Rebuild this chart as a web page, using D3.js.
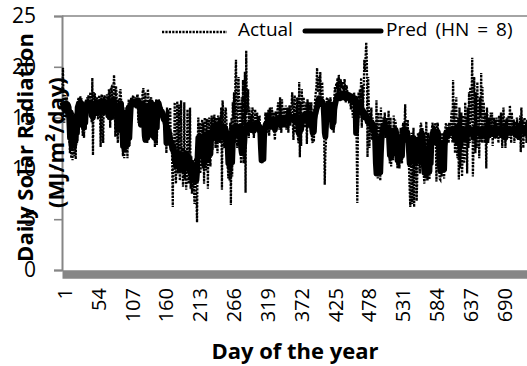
<!DOCTYPE html>
<html><head><meta charset="utf-8">
<script src="https://cdn.jsdelivr.net/npm/d3@7"></script>
<style>
body{margin:0;background:#fff}
svg{display:block}
text{font-family:"Open Sans",sans-serif;fill:#000}
</style>
</head><body>
<svg id="chart" width="527" height="366"></svg>
<script>
// ---- data ----
const xTickDays = [1,54,107,160,213,266,319,372,425,478,531,584,637,690];
const yTickValues = [0,5,10,15,20,25];
const seriesNames = ["Actual","Pred (HN = 8)"];
const xTitle = "Day of the year";
const yTitle1 = "Daily Solar Radiation";
const yTitle2 = "(MJ/m\u00B2/day)";

const actual = [
17.5,19.9,16.0,14.5,17.2,16.8,15.0,17.0,16.5,15.8,
16.5,13.0,11.5,15.8,11.0,13.0,10.8,15.5,12.0,11.2,
13.5,10.9,15.8,12.5,16.5,16.8,17.0,16.2,17.1,16.6,
16.9,15.0,13.2,14.8,13.0,16.3,13.8,16.8,16.5,17.0,
16.4,17.2,15.8,16.8,17.5,16.6,14.5,18.9,11.3,17.5,
16.8,17.4,15.2,16.6,17.0,15.5,14.8,16.9,17.2,16.0,
12.1,17.0,17.3,14.0,12.5,16.8,17.2,16.5,15.4,16.9,
17.3,16.5,14.8,17.8,17.4,14.0,17.9,18.0,17.2,14.8,
17.6,19.2,17.5,13.1,18.1,17.4,13.8,12.5,16.8,13.5,
17.5,17.8,16.9,14.0,12.8,11.2,13.5,11.0,12.5,16.0,
11.5,13.2,11.0,14.5,16.8,12.2,14.0,16.5,17.0,16.8,
16.9,17.2,16.7,16.5,17.0,16.8,15.9,17.1,17.3,14.5,
16.7,17.0,14.8,14.0,15.5,16.8,17.6,17.9,13.8,12.6,
17.5,13.5,16.2,12.5,17.8,16.9,13.0,15.5,16.8,17.0,
16.5,14.5,12.8,14.2,16.5,12.1,15.6,16.8,12.3,15.5,
16.7,16.8,16.5,16.2,16.0,15.5,16.0,14.8,15.3,14.6,
15.6,14.0,14.8,11.5,16.0,13.5,15.8,12.5,14.2,16.0,
11.8,13.5,11.0,6.2,12.8,10.5,16.5,9.8,8.5,12.5,
16.6,9.5,11.8,16.3,8.8,10.0,16.7,9.6,12.0,8.2,
9.0,16.5,8.9,11.5,7.9,9.5,15.8,11.8,8.5,10.0,
16.0,8.0,11.2,7.5,8.2,10.8,8.6,6.5,11.0,8.0,
7.2,4.7,12.0,15.0,13.0,14.5,9.5,10.5,13.8,14.8,
10.0,14.5,8.5,15.0,11.0,9.8,14.9,13.5,8.0,14.6,
15.0,11.0,10.2,14.5,15.2,11.8,15.0,13.0,15.3,14.5,
12.0,15.0,14.2,11.5,15.2,14.5,15.0,12.5,14.8,16.0,
7.9,16.7,15.5,12.8,12.0,15.2,16.0,14.8,13.0,10.5,
9.0,12.5,8.8,14.5,6.4,15.0,9.2,16.5,15.0,17.5,
12.5,18.5,20.7,14.5,12.0,17.0,19.0,15.5,16.5,12.0,
10.5,17.0,12.0,18.7,10.5,15.5,19.5,7.6,21.6,16.0,
15.5,17.8,13.0,16.0,14.5,15.2,13.5,15.5,16.0,14.2,
13.0,15.0,15.8,14.0,13.8,15.5,15.0,13.5,14.8,15.2,
12.5,10.8,11.1,10.5,12.0,11.3,14.0,12.5,15.5,15.0,
13.5,15.5,14.0,15.8,13.2,16.0,15.2,13.8,16.0,15.5,
14.0,15.5,13.5,12.8,15.6,15.2,14.0,15.8,16.5,15.0,
13.8,17.0,15.5,13.5,16.8,15.2,14.0,16.0,15.4,14.0,
16.2,13.8,15.5,16.0,13.5,15.8,16.2,14.2,15.8,16.0,
17.5,14.5,12.8,16.5,17.2,13.5,16.0,15.2,17.0,13.0,
12.5,18.5,11.1,16.5,12.2,17.8,15.8,16.5,17.0,14.0,
16.2,14.2,16.5,12.4,16.8,15.5,14.0,16.5,16.0,15.0,
16.5,12.8,12.5,15.8,12.6,16.0,16.8,17.5,18.0,19.9,
17.5,18.6,19.0,17.2,19.5,16.8,17.8,18.5,16.6,15.5,
13.5,8.4,11.5,12.8,16.8,17.0,15.5,16.8,15.0,16.5,
17.0,16.0,14.0,13.8,16.5,13.5,17.0,18.0,17.5,18.4,
17.8,18.9,17.5,19.2,18.2,17.6,18.8,17.9,18.5,17.8,
18.0,17.6,18.8,17.5,16.5,18.2,17.8,16.8,17.5,16.4,
17.0,16.5,15.8,17.2,16.2,15.0,16.5,17.5,14.5,16.0,
15.0,12.5,6.6,14.0,17.5,15.0,17.8,16.5,18.9,14.0,
18.2,16.0,17.5,20.7,19.5,21.0,22.4,20.5,11.1,19.0,
16.0,12.0,15.5,13.5,16.0,12.8,15.0,13.0,14.5,13.2,
11.5,9.8,16.7,10.5,9.0,15.5,9.5,14.0,8.8,16.0,
12.0,14.5,13.0,15.0,13.5,15.5,13.0,14.8,13.5,15.0,
13.0,15.7,11.5,10.5,15.0,10.2,14.0,12.6,10.8,15.2,
13.0,14.8,14.5,12.5,11.0,10.0,13.5,11.5,10.0,12.5,
14.0,11.0,10.5,14.0,14.5,12.8,14.2,16.3,12.5,14.5,
12.5,14.8,11.5,10.0,8.0,6.2,10.5,13.5,6.5,10.8,
14.0,6.2,11.5,9.0,12.5,6.8,9.5,13.5,10.5,11.8,
9.5,14.2,14.5,12.5,14.0,11.5,9.5,8.5,12.0,8.8,
14.6,11.0,8.8,13.5,9.5,8.9,12.5,9.5,13.5,14.0,
14.5,12.5,14.2,12.8,14.5,12.5,8.7,14.2,14.5,12.5,
10.5,9.0,8.9,12.0,9.2,13.5,9.5,10.0,9.0,13.5,
14.0,14.5,12.8,14.3,14.0,12.5,14.5,14.2,13.0,15.0,
15.7,12.5,18.7,14.5,16.5,11.5,15.5,17.0,12.0,11.0,
15.0,8.9,16.0,10.0,12.0,15.5,9.2,11.5,15.2,10.5,
11.0,16.5,12.5,15.0,9.5,16.0,12.0,17.5,12.5,18.0,
14.5,17.0,20.9,9.2,12.0,19.0,16.5,11.5,17.5,12.0,
18.5,13.0,16.0,11.0,17.0,15.0,19.4,12.5,18.0,14.5,
16.5,12.5,15.5,14.0,10.0,16.0,14.8,12.5,15.0,14.2,
13.0,15.5,14.0,15.5,12.2,14.5,15.0,13.0,14.8,14.0,
15.0,13.5,14.5,12.5,15.2,14.0,13.0,15.5,14.2,12.0,
14.5,16.0,13.0,14.8,12.0,14.5,15.0,13.5,14.0,15.2,
13.0,16.2,14.5,12.5,15.5,14.0,13.2,14.8,12.5,14.6,
14.0,13.0,15.0,14.2,12.8,14.5,13.5,15.2,11.6,16.0,
13.5,14.8,12.0,14.5,15.0,13.2,14.5,12.5,14.8,14.0
];

const pred = [
16.5,16.3,16.0,15.8,16.2,16.4,16.1,15.9,16.3,16.2,
16.0,14.5,13.0,15.5,12.5,14.0,12.2,15.0,13.0,12.3,
14.5,12.8,15.2,13.5,16.0,16.2,16.4,16.3,16.5,16.2,
16.4,15.5,14.2,15.0,14.0,15.8,14.5,16.0,16.3,16.5,
16.2,16.4,16.0,16.3,16.5,16.2,15.2,16.0,15.0,16.2,
16.4,16.2,15.6,16.3,16.5,16.0,15.4,16.2,16.5,16.3,
15.8,16.4,16.6,16.2,15.5,16.3,16.5,16.4,16.0,16.2,
16.5,16.2,15.2,16.4,16.6,15.0,16.3,16.5,16.1,15.4,
16.4,16.7,16.3,15.8,16.2,16.0,14.5,13.8,15.0,14.2,
15.8,16.3,16.4,15.0,13.5,12.2,14.0,12.0,13.2,15.5,
12.5,13.8,12.3,14.8,16.0,13.0,14.5,15.8,16.4,16.5,
16.3,16.6,16.5,16.3,16.6,16.4,16.2,16.5,16.7,16.4,
16.3,16.5,15.5,14.3,15.2,16.2,16.4,16.0,14.5,13.2,
12.8,14.0,15.5,13.0,14.8,16.2,13.5,15.0,16.3,16.5,
16.2,15.0,13.2,14.5,16.0,13.0,15.2,16.3,14.0,15.8,
16.2,16.4,16.1,15.9,15.7,15.4,15.6,15.2,15.0,14.8,
15.1,14.6,14.3,12.5,13.5,14.0,13.2,13.6,12.8,13.0,
12.4,12.6,12.0,11.8,12.2,11.5,10.8,11.2,10.2,11.0,
11.6,10.5,10.9,11.3,10.0,10.6,11.4,10.3,11.0,10.7,
9.8,11.2,10.4,10.9,11.5,10.1,10.6,11.0,9.9,10.5,
10.2,9.5,10.6,9.2,8.9,10.0,9.4,9.0,10.3,9.3,
8.8,9.6,11.5,13.0,12.5,13.2,12.0,11.2,12.5,13.0,
11.5,12.8,10.5,13.2,12.0,11.0,13.4,12.6,10.8,13.0,
13.5,12.2,11.4,13.3,13.6,12.9,14.0,13.6,14.2,13.8,
13.3,14.1,13.5,12.8,14.0,13.7,14.3,13.4,13.9,14.2,
13.0,13.8,14.1,13.6,13.2,14.0,13.8,13.5,13.5,12.0,
10.5,11.5,10.1,12.8,11.0,13.2,10.6,12.4,13.8,14.0,
13.5,13.9,14.2,13.6,13.3,14.0,13.8,14.1,13.7,13.2,
12.0,11.5,12.8,13.5,11.8,12.5,13.6,14.0,13.8,13.5,
14.1,14.3,13.9,14.2,14.0,14.4,13.8,14.1,14.3,14.0,
13.7,14.2,14.4,14.1,13.9,14.2,14.3,14.0,14.2,14.1,
13.5,12.0,10.8,11.5,12.5,10.9,13.0,13.8,14.2,14.4,
14.0,14.5,14.3,14.6,14.1,14.4,14.5,14.2,14.6,14.3,
14.5,14.7,14.4,13.8,14.5,14.6,14.3,14.8,14.5,14.7,
14.4,14.9,14.6,14.3,14.8,14.6,14.9,14.7,14.5,14.9,
15.0,14.7,14.8,15.1,14.6,14.9,15.0,14.8,15.1,14.9,
15.0,15.0,14.8,15.1,14.9,14.7,15.0,14.8,15.1,14.6,
13.5,14.2,13.6,15.0,13.8,14.5,15.1,14.9,15.2,15.0,
14.8,15.1,15.3,15.0,15.2,14.9,15.3,15.1,15.4,15.2,
15.0,14.0,13.5,14.6,13.6,14.8,15.3,15.5,15.8,16.0,
16.4,16.7,16.9,16.6,16.8,16.5,16.3,16.6,16.4,16.2,
15.0,13.5,13.1,14.2,15.5,16.2,16.0,16.2,15.8,16.1,
15.9,16.3,15.0,14.1,15.2,14.5,15.8,16.2,16.5,16.8,
17.0,17.2,17.0,17.3,17.1,16.9,17.2,17.4,17.1,17.3,
17.0,17.2,17.4,17.1,16.9,17.2,17.3,17.0,17.1,16.9,
17.2,17.0,16.8,17.1,16.9,16.7,17.0,16.8,16.6,16.9,
13.5,14.8,16.2,16.5,16.0,16.3,15.8,16.1,15.6,15.9,
15.4,15.7,15.2,15.5,15.0,15.3,14.9,15.1,14.6,14.8,
14.5,14.8,14.4,14.6,14.2,14.5,14.0,14.3,13.8,14.1,
12.5,10.5,9.5,11.0,9.8,12.0,10.2,13.0,9.6,11.5,
12.8,13.5,14.0,14.2,13.9,14.3,14.0,13.8,14.1,13.6,
13.9,14.0,12.5,11.3,12.8,11.1,13.0,12.0,11.5,13.2,
13.8,13.6,13.8,13.5,12.0,10.8,11.5,12.5,10.9,11.8,
13.0,12.2,11.2,12.8,13.5,13.7,13.6,13.4,13.5,13.3,
13.6,13.2,12.8,11.5,10.5,12.0,11.2,12.5,10.8,11.8,
13.0,11.0,12.2,10.6,11.6,12.8,10.9,12.0,11.4,12.6,
10.7,13.0,13.4,13.5,13.3,12.5,10.5,9.6,11.0,9.5,
10.8,12.0,9.8,11.5,10.2,9.7,11.8,10.5,12.5,13.2,
13.5,13.4,13.5,13.3,13.6,13.2,12.5,13.4,13.6,13.3,
12.0,10.5,9.8,11.2,10.0,12.5,10.3,11.0,9.9,12.2,
13.0,13.5,13.4,13.6,13.3,13.5,13.4,13.7,13.5,13.6,
13.8,13.5,13.9,13.6,13.8,12.8,13.7,14.0,13.5,12.5,
13.8,13.6,13.9,12.2,13.5,13.8,13.6,13.2,13.9,13.7,
12.8,13.6,13.8,13.5,13.9,13.7,13.4,13.8,13.6,13.9,
13.7,13.5,13.8,13.6,13.0,13.7,13.9,13.6,13.5,13.8,
13.6,13.9,13.7,13.4,13.8,13.6,13.1,13.7,13.9,13.6,
13.8,13.5,13.7,13.9,13.6,13.0,13.8,13.6,13.7,13.9,
13.5,13.8,13.6,13.7,13.4,13.8,13.9,13.6,13.2,13.7,
13.8,13.6,13.9,13.7,13.5,13.8,13.6,13.9,13.7,13.4,
13.8,13.6,13.7,13.9,13.0,13.6,13.8,13.7,13.5,13.8,
13.6,13.9,13.7,13.5,13.8,13.6,13.7,13.9,13.6,13.8,
13.5,13.7,13.9,13.6,13.8,13.1,13.7,13.6,13.8,13.7,
13.9,13.6,13.8,13.7,13.5,13.8,13.6,13.9,13.7,13.8
];

// ---- drawing ----
const svg = d3.select("#chart");
const nDays = 730;
const axisGray = "#868686";

const x = d3.scaleLinear().domain([0.5, nDays + 0.5]).range([62, 62 + nDays * 0.6385]);
const y = d3.scaleLinear().domain([0, 25]).range([270, 16]);

// top line at 25
svg.append("line")
  .attr("x1", 62).attr("x2", 528).attr("y1", y(25)).attr("y2", y(25))
  .attr("stroke", axisGray).attr("stroke-width", 1.6);

// y axis
const yAxis = svg.append("g").attr("transform", "translate(62,0)")
  .call(d3.axisLeft(y).tickValues(yTickValues).tickSize(8).tickPadding(18).tickFormat(d3.format("d")));
yAxis.select(".domain").attr("stroke", axisGray).attr("stroke-width", 2);
yAxis.selectAll(".tick line").attr("stroke", axisGray).attr("stroke-width", 1.6);
yAxis.selectAll(".tick text").attr("font-size", 21).attr("font-family", "'Open Sans',sans-serif").attr("fill", "#000");

// series
const line = d3.line().x((d, i) => x(i + 1)).y(d => y(d));
svg.append("path").datum(actual)
  .attr("d", line).attr("fill", "none").attr("stroke", "#000")
  .attr("stroke-width", 2.3).attr("stroke-dasharray", "2.2,1.2");
svg.append("path").datum(pred)
  .attr("d", line).attr("fill", "none").attr("stroke", "#000")
  .attr("stroke-width", 5.8).attr("stroke-linejoin", "round");

// x axis (thick gray bar)
const xAxis = svg.append("g").attr("transform", "translate(0,274)")
  .call(d3.axisBottom(x).tickValues(xTickDays).tickSize(0).tickFormat(d3.format("d")));
xAxis.select(".domain").attr("stroke", axisGray).attr("stroke-width", 8.5);
xAxis.selectAll(".tick text")
  .attr("font-size", 20).attr("font-family", "'Open Sans',sans-serif").attr("fill", "#000")
  .attr("x", 0).attr("y", 0).attr("dy", "0.45em")
  .attr("transform", "translate(0,14) rotate(-90)")
  .style("text-anchor", "end");

// legend
const lg = svg.append("g");
lg.append("line").attr("x1", 162).attr("x2", 227).attr("y1", 32).attr("y2", 32)
  .attr("stroke", "#000").attr("stroke-width", 2.3).attr("stroke-dasharray", "2.2,1.2");
lg.append("text").attr("x", 238).attr("y", 36).attr("font-size", 19).text(seriesNames[0]);
lg.append("line").attr("x1", 305).attr("x2", 381).attr("y1", 31).attr("y2", 31)
  .attr("stroke", "#000").attr("stroke-width", 5).attr("stroke-linecap", "round");
lg.append("text").attr("x", 386).attr("y", 36).attr("font-size", 19).style("word-spacing", "3px").text(seriesNames[1]);

// axis titles
svg.append("text").attr("x", 295).attr("y", 359).attr("text-anchor", "middle")
  .attr("font-size", 22).attr("font-weight", "bold").text(xTitle);
svg.append("text").attr("transform", "translate(32.5,147.5) rotate(-90)").attr("text-anchor", "middle")
  .attr("font-size", 22).attr("font-weight", "bold").text(yTitle1);
svg.append("text").attr("transform", "translate(64,208) rotate(-90)").attr("text-anchor", "start")
  .attr("font-size", 22).attr("font-weight", "bold").text(yTitle2);
</script>
</body></html>
